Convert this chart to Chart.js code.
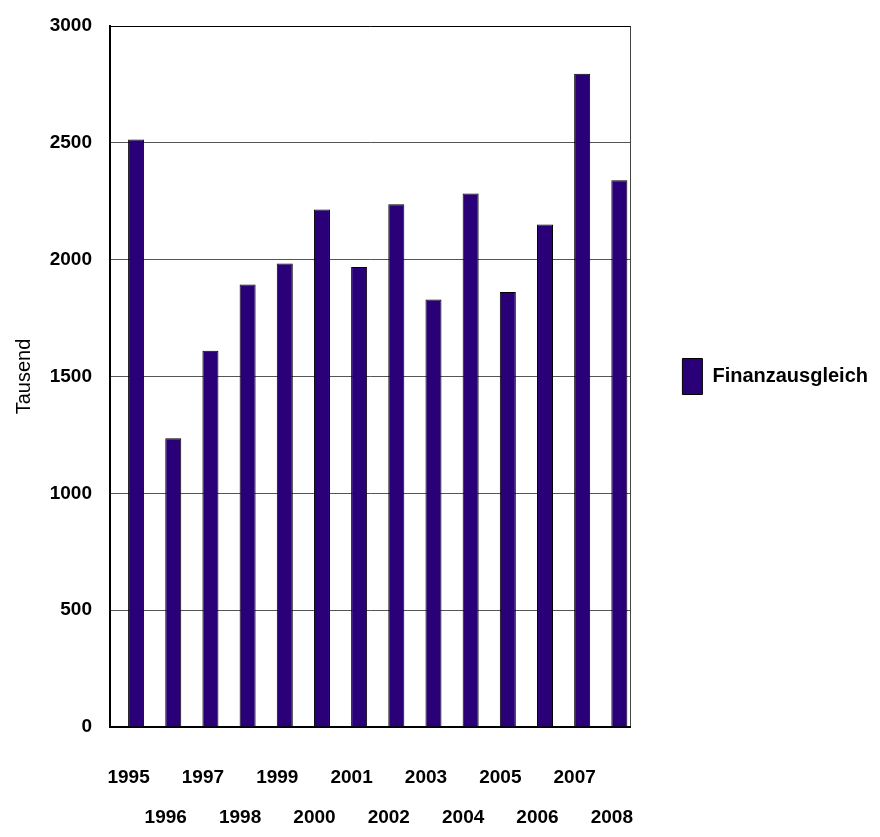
<!DOCTYPE html>
<html>
<head>
<meta charset="utf-8">
<script src="https://cdn.jsdelivr.net/npm/chart.js@4/dist/chart.umd.min.js"></script>
<style>
  html, body { margin: 0; padding: 0; background: #ffffff; }
  #wrap { width: 880px; height: 837px; position: relative; }
</style>
</head>
<body>
<div id="wrap"><canvas id="c" width="880" height="837"></canvas></div>
<script>
const years = ['1995','1996','1997','1998','1999','2000','2001','2002','2003','2004','2005','2006','2007','2008'];
const finanzausgleich = [2514, 1236, 1610, 1894, 1984, 2215, 1969, 2237, 1830, 2283, 1862, 2150, 2796, 2340];
const seriesName = 'Finanzausgleich';
const yTitle = 'Tausend';
const yMin = 0, yMax = 3000, yStep = 500;

const fam = "'Liberation Sans', Arial, sans-serif";
const barColor = '#2A0078';

// let the right-hand legend keep its full natural width
const legendWidthPlugin = {
  id: 'legendWidth',
  beforeLayout(chart) {
    const lg = chart.legend;
    if (lg && !lg._wPatched) {
      const orig = lg.fit;
      lg.fit = function () {
        orig.call(this);
        if (this.columnSizes && this.columnSizes.length) {
          const p = this.options.labels.padding;
          this.width = p + this.columnSizes.reduce((s, c) => s + c.width, 0);
        }
      };
      lg._wPatched = true;
    }
  }
};

new Chart(document.getElementById('c'), {
  type: 'bar',
  data: {
    labels: years,
    datasets: [
      { label: '_spacer', data: years.map(() => null), backgroundColor: 'rgba(0,0,0,0)', borderWidth: 0 },
      { label: seriesName, data: finanzausgleich, backgroundColor: barColor, borderColor: '#000000', borderWidth: 1 }
    ]
  },
  plugins: [legendWidthPlugin],
  options: {
    responsive: false,
    animation: false,
    devicePixelRatio: 1,
    categoryPercentage: 0.808,
    barPercentage: 1.067,
    layout: { padding: { top: 26, right: 12, left: 0, bottom: 0 } },
    plugins: {
      tooltip: { enabled: false },
      legend: {
        position: 'right',
        fullSize: false,
        labels: {
          filter: (item) => item.text !== '_spacer',
          boxWidth: 20,
          boxHeight: 36,
          padding: 52,
          color: '#000000',
          font: { family: fam, size: 20, weight: 'bold' }
        }
      }
    },
    scales: {
      x: {
        grid: {
          drawTicks: false,
          color: (ctx) => ctx.tick ? 'rgba(0,0,0,0)' : '#444444'
        },
        border: { color: '#000000', width: 2 },
        ticks: {
          autoSkip: false,
          maxRotation: 0,
          minRotation: 0,
          padding: 31,
          color: '#000000',
          font: { family: fam, size: 19, weight: 'bold', lineHeight: 2.1 },
          callback: function(value, index) {
            const t = years[index];
            return index % 2 === 0 ? [t, ''] : ['', t];
          }
        },
        afterFit: (s) => { s.height = 110; }
      },
      y: {
        min: yMin,
        max: yMax,
        ticks: {
          stepSize: yStep,
          padding: 0,
          color: '#000000',
          font: { family: fam, size: 19, weight: 'bold' },
          callback: (v) => String(v)
        },
        grid: {
          drawTicks: true,
          tickLength: 18,
          tickColor: 'rgba(0,0,0,0)',
          lineWidth: 1,
          color: (ctx) => (ctx.tick && ctx.tick.value === yMax) ? '#000000' : '#555555'
        },
        border: { color: '#000000', width: 2 },
        title: {
          display: true,
          text: yTitle,
          color: '#000000',
          padding: { top: 12, bottom: 0 },
          font: { family: fam, size: 20, weight: 'normal' }
        },
        afterFit: (s) => { s.width = 110; }
      }
    }
  }
});
</script>
</body>
</html>
